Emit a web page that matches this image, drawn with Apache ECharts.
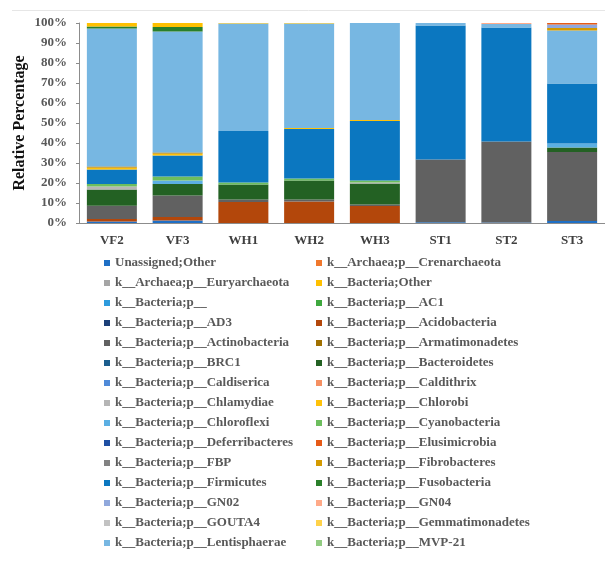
<!DOCTYPE html>
<html>
<head>
<meta charset="utf-8">
<script src="https://cdn.jsdelivr.net/npm/echarts@6/dist/echarts.min.js"></script>
<style>
  html, body { margin: 0; padding: 0; background: #ffffff; }
  #chart { width: 605px; height: 567px; }
</style>
</head>
<body>
<div id="chart"></div>
<script>
// Samples along the x axis
const samples = ['VF2', 'VF3', 'WH1', 'WH2', 'WH3', 'ST1', 'ST2', 'ST3'];

// Y axis ticks (percent)
const yTicks = [0, 10, 20, 30, 40, 50, 60, 70, 80, 90, 100];

// Relative abundance (%) per taxon, one value per sample
const unassignedOther     = [0.8, 1.3, 0, 0, 0, 0.4, 0.3, 1.0];
const crenarchaeota       = [0, 0, 0, 0, 0, 0, 0, 0];
const euryarchaeota       = [0, 0, 0, 0, 0, 0, 0, 0];
const bacteriaOther       = [1.7, 2.0, 0.3, 0.3, 0, 0, 0, 0];
const bacteriaUnclass     = [0, 0, 0, 0, 0, 0, 0, 0];
const ac1                 = [0, 0, 0, 0, 0, 0, 0, 0];
const ad3                 = [0, 0, 0, 0, 0, 0, 0, 0];
const acidobacteria       = [1.2, 1.7, 10.5, 10.8, 8.5, 0, 0, 0];
const actinobacteria      = [6.6, 10.8, 1.2, 1.0, 0.8, 31.3, 40.5, 34.5];
const armatimonadetes     = [0.6, 0.6, 0, 0, 0, 0, 0, 0];
const brc1                = [0, 0, 0, 0, 0, 0, 0, 0];
const bacteroidetes       = [8.1, 5.7, 7.5, 9.4, 10.4, 0, 0, 2.2];
const caldiserica         = [0, 0, 0, 0, 0, 0, 0, 0];
const caldithrix          = [0, 0, 0, 0, 0, 0, 0, 0];
const chlamydiae          = [1.6, 0, 0, 0, 0.6, 0, 0, 0];
const chlorobi            = [0.9, 1.0, 0, 0.5, 0.5, 0, 0, 0];
const chloroflexi         = [0, 1.8, 0, 0, 0, 0, 0, 2.0];
const cyanobacteria       = [1.2, 2.0, 1.0, 1.0, 0.9, 0, 0, 0];
const deferribacteres     = [0, 0, 0, 0, 0, 0, 0, 0];
const elusimicrobia       = [0, 0, 0, 0, 0, 0, 0, 0.7];
const fbp                 = [0, 0, 0, 0, 0, 0, 0, 0];
const fibrobacteres       = [0, 0, 0, 0, 0, 0, 0, 1.2];
const firmicutes          = [7.3, 10.4, 25.8, 24.8, 29.8, 67.1, 56.9, 30.0];
const fusobacteria        = [1.0, 2.2, 0, 0, 0, 0, 0, 0];
const gn02                = [0, 0, 0, 0, 0, 0, 0, 1.8];
const gn04                = [0, 0, 0, 0, 0, 0, 0.5, 0];
const gouta4              = [0, 0, 0, 0, 0, 0, 0, 0];
const gemmatimonadetes    = [0, 0, 0, 0, 0, 0, 0, 0];
const lentisphaerae       = [69.0, 60.5, 53.7, 52.2, 48.5, 1.2, 1.8, 26.6];
const mvp21               = [0, 0, 0, 0, 0, 0, 0, 0];

// Taxon labels
const N = {
  unassigned: 'Unassigned;Other',
  cren: 'k__Archaea;p__Crenarchaeota',
  eury: 'k__Archaea;p__Euryarchaeota',
  bOther: 'k__Bacteria;Other',
  bUncl: 'k__Bacteria;p__',
  ac1: 'k__Bacteria;p__AC1',
  ad3: 'k__Bacteria;p__AD3',
  acido: 'k__Bacteria;p__Acidobacteria',
  actino: 'k__Bacteria;p__Actinobacteria',
  armat: 'k__Bacteria;p__Armatimonadetes',
  brc1: 'k__Bacteria;p__BRC1',
  bacter: 'k__Bacteria;p__Bacteroidetes',
  caldis: 'k__Bacteria;p__Caldiserica',
  caldit: 'k__Bacteria;p__Caldithrix',
  chlam: 'k__Bacteria;p__Chlamydiae',
  chlorobi: 'k__Bacteria;p__Chlorobi',
  chloro: 'k__Bacteria;p__Chloroflexi',
  cyano: 'k__Bacteria;p__Cyanobacteria',
  defer: 'k__Bacteria;p__Deferribacteres',
  elusi: 'k__Bacteria;p__Elusimicrobia',
  fbp: 'k__Bacteria;p__FBP',
  fibro: 'k__Bacteria;p__Fibrobacteres',
  firm: 'k__Bacteria;p__Firmicutes',
  fuso: 'k__Bacteria;p__Fusobacteria',
  gn02: 'k__Bacteria;p__GN02',
  gn04: 'k__Bacteria;p__GN04',
  gouta4: 'k__Bacteria;p__GOUTA4',
  gemma: 'k__Bacteria;p__Gemmatimonadetes',
  lenti: 'k__Bacteria;p__Lentisphaerae',
  mvp21: 'k__Bacteria;p__MVP-21'
};

// Stacking order, bottom to top: [label, values, colour]
const stack = [
  [N.unassigned, unassignedOther, '#1f6fc5'],
  [N.cren, crenarchaeota, '#f0782d'],
  [N.eury, euryarchaeota, '#a5a5a5'],
  [N.bUncl, bacteriaUnclass, '#2e9bdd'],
  [N.ad3, ad3, '#1b3f78'],
  [N.acido, acidobacteria, '#b3470b'],
  [N.actino, actinobacteria, '#616161'],
  [N.brc1, brc1, '#1b5e8e'],
  [N.bacter, bacteroidetes, '#236123'],
  [N.caldis, caldiserica, '#4f8ad8'],
  [N.chlam, chlamydiae, '#b5b5b5'],
  [N.chloro, chloroflexi, '#5bafe3'],
  [N.cyano, cyanobacteria, '#6dbe5e'],
  [N.mvp21, mvp21, '#92cc82'],
  [N.defer, deferribacteres, '#1f4fa3'],
  [N.fbp, fbp, '#828282'],
  [N.firm, firmicutes, '#0b77c0'],
  [N.chlorobi, chlorobi, '#ffc20a'],
  [N.armat, armatimonadetes, '#a07000'],
  [N.gemma, gemmatimonadetes, '#ffd24a'],
  [N.lenti, lentisphaerae, '#77b7e2'],
  [N.fuso, fusobacteria, '#2a7f2a'],
  [N.fibro, fibrobacteres, '#d49a00'],
  [N.gn02, gn02, '#90a8dc'],
  [N.gouta4, gouta4, '#c2c2c2'],
  [N.ac1, ac1, '#3ea83e'],
  [N.bOther, bacteriaOther, '#ffc000'],
  [N.caldit, caldithrix, '#f59062'],
  [N.gn04, gn04, '#ffaa88'],
  [N.elusi, elusimicrobia, '#e65a17']
];

// Legend columns (read left to right, row by row)
const legendLeft = [N.unassigned, N.eury, N.bUncl, N.ad3, N.actino, N.brc1, N.caldis,
  N.chlam, N.chloro, N.defer, N.fbp, N.firm, N.gn02, N.gouta4, N.lenti];
const legendRight = [N.cren, N.bOther, N.ac1, N.acido, N.armat, N.bacter, N.caldit,
  N.chlorobi, N.cyano, N.elusi, N.fibro, N.fuso, N.gn04, N.gemma, N.mvp21];

const serif = '"Liberation Serif", "DejaVu Serif", serif';
const legendText = { fontFamily: serif, fontWeight: 'bold', fontSize: 13, color: '#595959', lineHeight: 20 };

const chart = echarts.init(document.getElementById('chart'), null, { renderer: 'canvas' });

chart.setOption({
  backgroundColor: '#ffffff',
  animation: false,
  graphic: [{
    type: 'line',
    shape: { x1: 12, y1: 10.5, x2: 605, y2: 10.5 },
    style: { stroke: '#e6e6e6', lineWidth: 1 }
  }],
  grid: { left: 79, right: -5, top: 23, bottom: 344, containLabel: false },
  legend: [
    {
      data: legendLeft, orient: 'vertical', left: 99, top: 248, padding: 5,
      icon: 'rect', itemWidth: 6, itemHeight: 6, itemGap: 0,
      textStyle: legendText, selectedMode: true
    },
    {
      data: legendRight, orient: 'vertical', left: 311, top: 248, padding: 5,
      icon: 'rect', itemWidth: 6, itemHeight: 6, itemGap: 0,
      textStyle: legendText, selectedMode: true
    }
  ],
  xAxis: {
    type: 'category',
    data: samples,
    axisLine: { lineStyle: { color: '#8c8c8c', width: 1 } },
    axisTick: { show: false },
    axisLabel: { fontFamily: serif, fontWeight: 'bold', fontSize: 13, color: '#404040', margin: 11 }
  },
  yAxis: {
    type: 'value',
    min: yTicks[0],
    max: yTicks[yTicks.length - 1],
    interval: 10,
    name: 'Relative Percentage',
    nameLocation: 'middle',
    nameGap: 51,
    nameMoveOverlap: false,
    nameTextStyle: { fontFamily: serif, fontWeight: 'bold', fontSize: 16, color: '#111111' },
    axisLine: { show: true, lineStyle: { color: '#8c8c8c', width: 1 } },
    axisTick: { show: true, length: 3, lineStyle: { color: '#8c8c8c' } },
    splitLine: { show: false },
    axisLabel: {
      formatter: '{value}%', fontFamily: serif, fontWeight: 'bold', fontSize: 13,
      color: '#595959', margin: 12
    }
  },
  series: stack.map(([name, values, color]) => ({
    name: name,
    type: 'bar',
    stack: 'total',
    barWidth: 50,
    data: values,
    itemStyle: { color: color },
    emphasis: { disabled: true }
  }))
});
</script>
</body>
</html>
